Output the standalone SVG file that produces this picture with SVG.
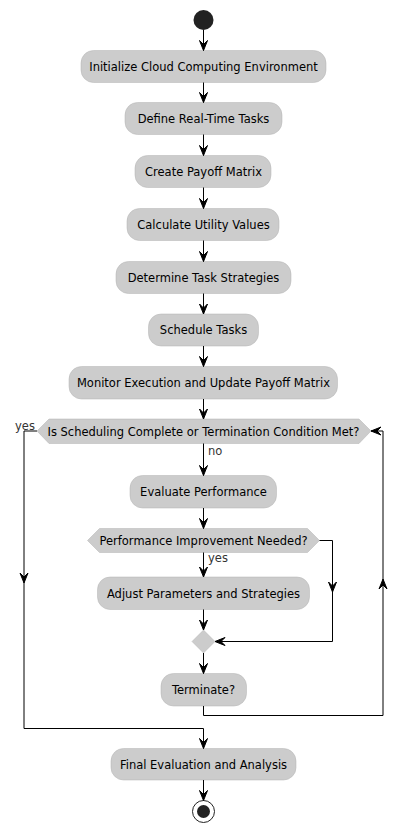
<svg xmlns="http://www.w3.org/2000/svg" width="408" height="832" viewBox="0 0 408 832">
<style>
.box{fill:#cccccc;stroke:#b3b3b3;stroke-width:0.5}
.t{font-family:"DejaVu Sans",sans-serif;font-size:11.5px;fill:#000;text-anchor:middle}
.lbl{font-family:"DejaVu Sans",sans-serif;font-size:11.5px;fill:#333}
.ln{fill:none;stroke:#000;stroke-width:1}
.ah{fill:#000;stroke:#000;stroke-width:1}
</style>
<rect width="408" height="832" fill="#fff"/>
<g id="start"><circle cx="203.5" cy="20" r="10" fill="#222"/></g>
<g id="n1"><rect class="box" x="81" y="50.5" width="245" height="32" rx="12.5"/><text class="t" x="203.5" y="70.5">Initialize Cloud Computing Environment</text></g>
<g id="n2"><rect class="box" x="125" y="102.5" width="157" height="32" rx="12.5"/><text class="t" x="203.5" y="122.5">Define Real-Time Tasks</text></g>
<g id="n3"><rect class="box" x="135" y="155.5" width="136" height="32" rx="12.5"/><text class="t" x="203.5" y="175.5">Create Payoff Matrix</text></g>
<g id="n4"><rect class="box" x="127" y="208.5" width="152" height="32" rx="12.5"/><text class="t" x="203.5" y="228.5">Calculate Utility Values</text></g>
<g id="n5"><rect class="box" x="116" y="261.5" width="175" height="32" rx="12.5"/><text class="t" x="203.5" y="281.5">Determine Task Strategies</text></g>
<g id="n6"><rect class="box" x="148.5" y="314" width="110" height="32" rx="12.5"/><text class="t" x="203.5" y="334">Schedule Tasks</text></g>
<g id="n7"><rect class="box" x="69" y="366.5" width="268.5" height="32.5" rx="12.5"/><text class="t" x="203.5" y="387">Monitor Execution and Update Payoff Matrix</text></g>
<g id="d1"><polygon class="box" points="37,431 49,419 359,419 371,431 359,443.5 49,443.5"/><text class="t" x="203.5" y="435.5">Is Scheduling Complete or Termination Condition Met?</text></g>
<g id="n8"><rect class="box" x="130" y="475.5" width="146.5" height="32.5" rx="12.5"/><text class="t" x="203.5" y="496">Evaluate Performance</text></g>
<g id="d2"><polygon class="box" points="87.5,540.5 99.5,528.5 307.5,528.5 319.5,540.5 307.5,552.5 99.5,552.5"/><text class="t" x="203.5" y="544.5">Performance Improvement Needed?</text></g>
<g id="n9"><rect class="box" x="97.5" y="577" width="212" height="32.5" rx="12.5"/><text class="t" x="203.5" y="597.5">Adjust Parameters and Strategies</text></g>
<g id="merge"><polygon class="box" points="203.5,630 215,641.5 203.5,653 192,641.5"/></g>
<g id="n10"><rect class="box" x="161" y="673.5" width="85.5" height="32.5" rx="12.5"/><text class="t" x="203.5" y="694">Terminate?</text></g>
<g id="n11"><rect class="box" x="111" y="748.5" width="185" height="31.5" rx="12.5"/><text class="t" x="203.5" y="768.5">Final Evaluation and Analysis</text></g>
<g id="end"><circle cx="203.5" cy="811.5" r="11" fill="#fff" stroke="#222" stroke-width="1"/><circle cx="203.5" cy="811.5" r="6.5" fill="#222"/></g>
<g id="connectors">
<path class="ln" d="M203.5,30 V50.5 M203.5,82.5 V102.5 M203.5,134.5 V155.5 M203.5,187.5 V208.5 M203.5,240.5 V261.5 M203.5,293.5 V314 M203.5,346 V366.5 M203.5,399 V419 M203.5,443.5 V475.5 M203.5,508 V528.5 M203.5,552.5 V577 M203.5,609.5 V630 M203.5,653 V673.5 M203.5,780 V800.5"/>
<path class="ah" d="M199.5,40.5 L203.5,50.5 L207.5,40.5 L203.5,44.5 Z M199.5,92.5 L203.5,102.5 L207.5,92.5 L203.5,96.5 Z M199.5,145.5 L203.5,155.5 L207.5,145.5 L203.5,149.5 Z M199.5,198.5 L203.5,208.5 L207.5,198.5 L203.5,202.5 Z M199.5,251.5 L203.5,261.5 L207.5,251.5 L203.5,255.5 Z M199.5,304 L203.5,314 L207.5,304 L203.5,308 Z M199.5,356.5 L203.5,366.5 L207.5,356.5 L203.5,360.5 Z M199.5,409 L203.5,419 L207.5,409 L203.5,413 Z M199.5,465.5 L203.5,475.5 L207.5,465.5 L203.5,469.5 Z M199.5,518.5 L203.5,528.5 L207.5,518.5 L203.5,522.5 Z M199.5,567 L203.5,577 L207.5,567 L203.5,571 Z M199.5,620 L203.5,630 L207.5,620 L203.5,624 Z M199.5,663.5 L203.5,673.5 L207.5,663.5 L203.5,667.5 Z M199.5,738.5 L203.5,748.5 L207.5,738.5 L203.5,742.5 Z M199.5,790.5 L203.5,800.5 L207.5,790.5 L203.5,794.5 Z"/>
<path class="ln" d="M37,431 H24 V728.5 H203.5 V748.5"/>
<path class="ah" d="M20,573 L24,583 L28,573 L24,577 Z"/>
<path class="ln" d="M203.5,706 V715.5 H383 V431 H371"/>
<path class="ah" d="M379,589 L383,579 L387,589 L383,585 Z M381,427 L371,431 L381,435 L377,431 Z"/>
<path class="ln" d="M319.5,540.5 H332.5 V641.5 H215"/>
<path class="ah" d="M328.5,582 L332.5,592 L336.5,582 L332.5,586 Z M225,637.5 L215,641.5 L225,645.5 L221,641.5 Z"/>
</g>
<text class="lbl" x="15" y="430">yes</text>
<text class="lbl" x="208" y="455">no</text>
<text class="lbl" x="208" y="562">yes</text>
</svg>
